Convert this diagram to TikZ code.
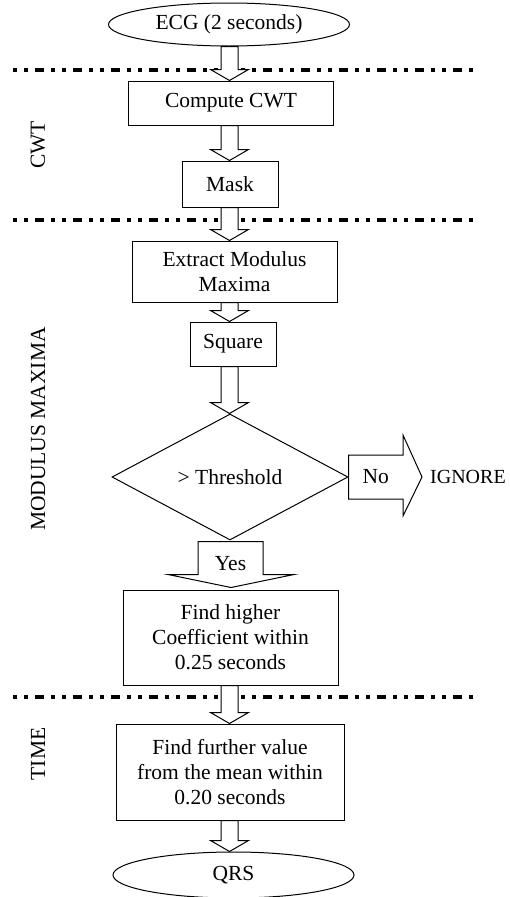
\documentclass[tikz,border=0pt]{standalone}
\usepackage{fontspec}
\setmainfont{Liberation Serif}
\usetikzlibrary{shapes.geometric,calc}
\tikzset{
  every node/.style={font=\fontsize{21.5}{25}\selectfont},
  box/.style={draw, line width=1pt, fill=white, align=center, inner sep=0pt},
  oval/.style={draw, ellipse, line width=1pt, fill=white, inner sep=0pt},
  sepline/.style={line width=4pt, dash pattern=on 4pt off 7pt on 4pt off 7pt on 9pt off 7pt},
  barrow/.style={draw, line width=1pt, fill=white, line join=miter},
  side/.style={rotate=90, inner sep=0pt}
}
\newcommand{\blkdown}[2]{%
  \draw[barrow] let \p1=(#1.south), \p2=(#2.north), \p3=(axis) in
    (\x3-8.5pt,\y1) -- (\x3+8.5pt,\y1) -- (\x3+8.5pt,\y2+11pt) -- (\x3+19pt,\y2+11pt)
    -- (\x3,\y2) -- (\x3-19pt,\y2+11pt) -- (\x3-8.5pt,\y2+11pt) -- cycle;}
\begin{document}
\begin{tikzpicture}[x=1pt,y=1pt]
\useasboundingbox (0,0) rectangle (509,-897);
\coordinate (axis) at (229.5,0);
% separator lines
\coordinate (s1a) at (13,-70);  \coordinate (s1b) at (474,-70);
\coordinate (s2a) at (13,-220); \coordinate (s2b) at (474,-220);
\coordinate (s3a) at (13,-697); \coordinate (s3b) at (474,-697);
\draw[sepline] (s1a) -- (s1b);
\draw[sepline] (s2a) -- (s2b);
\draw[sepline] (s3a) -- (s3b);
% side labels
\node[side] (lcwt) at (38,-145) {CWT};
\node[side] (lmod) at (38,-429) {MODULUS MAXIMA};
\node[side] (ltime) at (38,-754) {TIME};
% nodes
\node[oval, minimum width=241pt, minimum height=43pt] (ecg) at (229,-24.5) {ECG (2 seconds)};
\node[box, minimum width=205pt, minimum height=44pt] (cwt) at (231,-103) {Compute CWT};
\node[box, minimum width=96pt, minimum height=46pt] (mask) at (230,-184) {Mask};
\node[box, minimum width=205pt, minimum height=61pt] (extract) at (234.5,-271.5) {Extract Modulus\\Maxima};
\node[box, minimum width=86pt, minimum height=44pt] (square) at (233,-344) {Square};
\node[draw, diamond, line width=1pt, fill=white, inner sep=0pt, minimum width=236pt, minimum height=126pt] (thr) at (230,-477) {> Threshold};
\node[box, minimum width=215pt, minimum height=95pt] (higher) at (230.5,-637.5) {Find higher\\Coefficient within\\0.25 seconds};
\node[box, minimum width=228pt, minimum height=96pt] (further) at (230,-772) {Find further value\\from the mean within\\0.20 seconds};
\node[oval, minimum width=241pt, minimum height=46pt] (qrs) at (233.5,-875) {QRS};
\node[anchor=west, inner sep=0pt, font=\fontsize{20}{24}\selectfont] (ignore) at (430,-477) {IGNORE};
% block arrows
\blkdown{ecg}{cwt}
\blkdown{cwt}{mask}
\blkdown{mask}{extract}
\blkdown{extract}{square}
\blkdown{square}{thr}
\blkdown{higher}{further}
\blkdown{further}{qrs}
% No arrow
\coordinate (notip) at (422,-477);
\draw[barrow] let \p1=(thr.east), \p2=(notip) in
  (\x1,\y1+22pt) -- (\x2-19pt,\y1+22pt) -- (\x2-19pt,\y1+42pt) -- (\x2,\y1)
  -- (\x2-19pt,\y1-39pt) -- (\x2-19pt,\y1-22pt) -- (\x1,\y1-22pt) -- cycle;
\node (no) at ($(thr.east)!0.37!(notip)$) {No};
% Yes arrow
\draw[barrow] let \p1=(thr.south), \p2=(higher.north) in
  (\x1-32pt,\y1-1pt) -- (\x1+33pt,\y1-1pt) -- (\x1+33pt,\y2+15pt) -- (\x1+64pt,\y2+15pt)
  -- (\x1+1pt,\y2+2pt) -- (\x1-62pt,\y2+15pt) -- (\x1-32pt,\y2+15pt) -- cycle;
\node (yes) at ($(thr.south)+(0.5,-23)$) {Yes};
\end{tikzpicture}
\end{document}
